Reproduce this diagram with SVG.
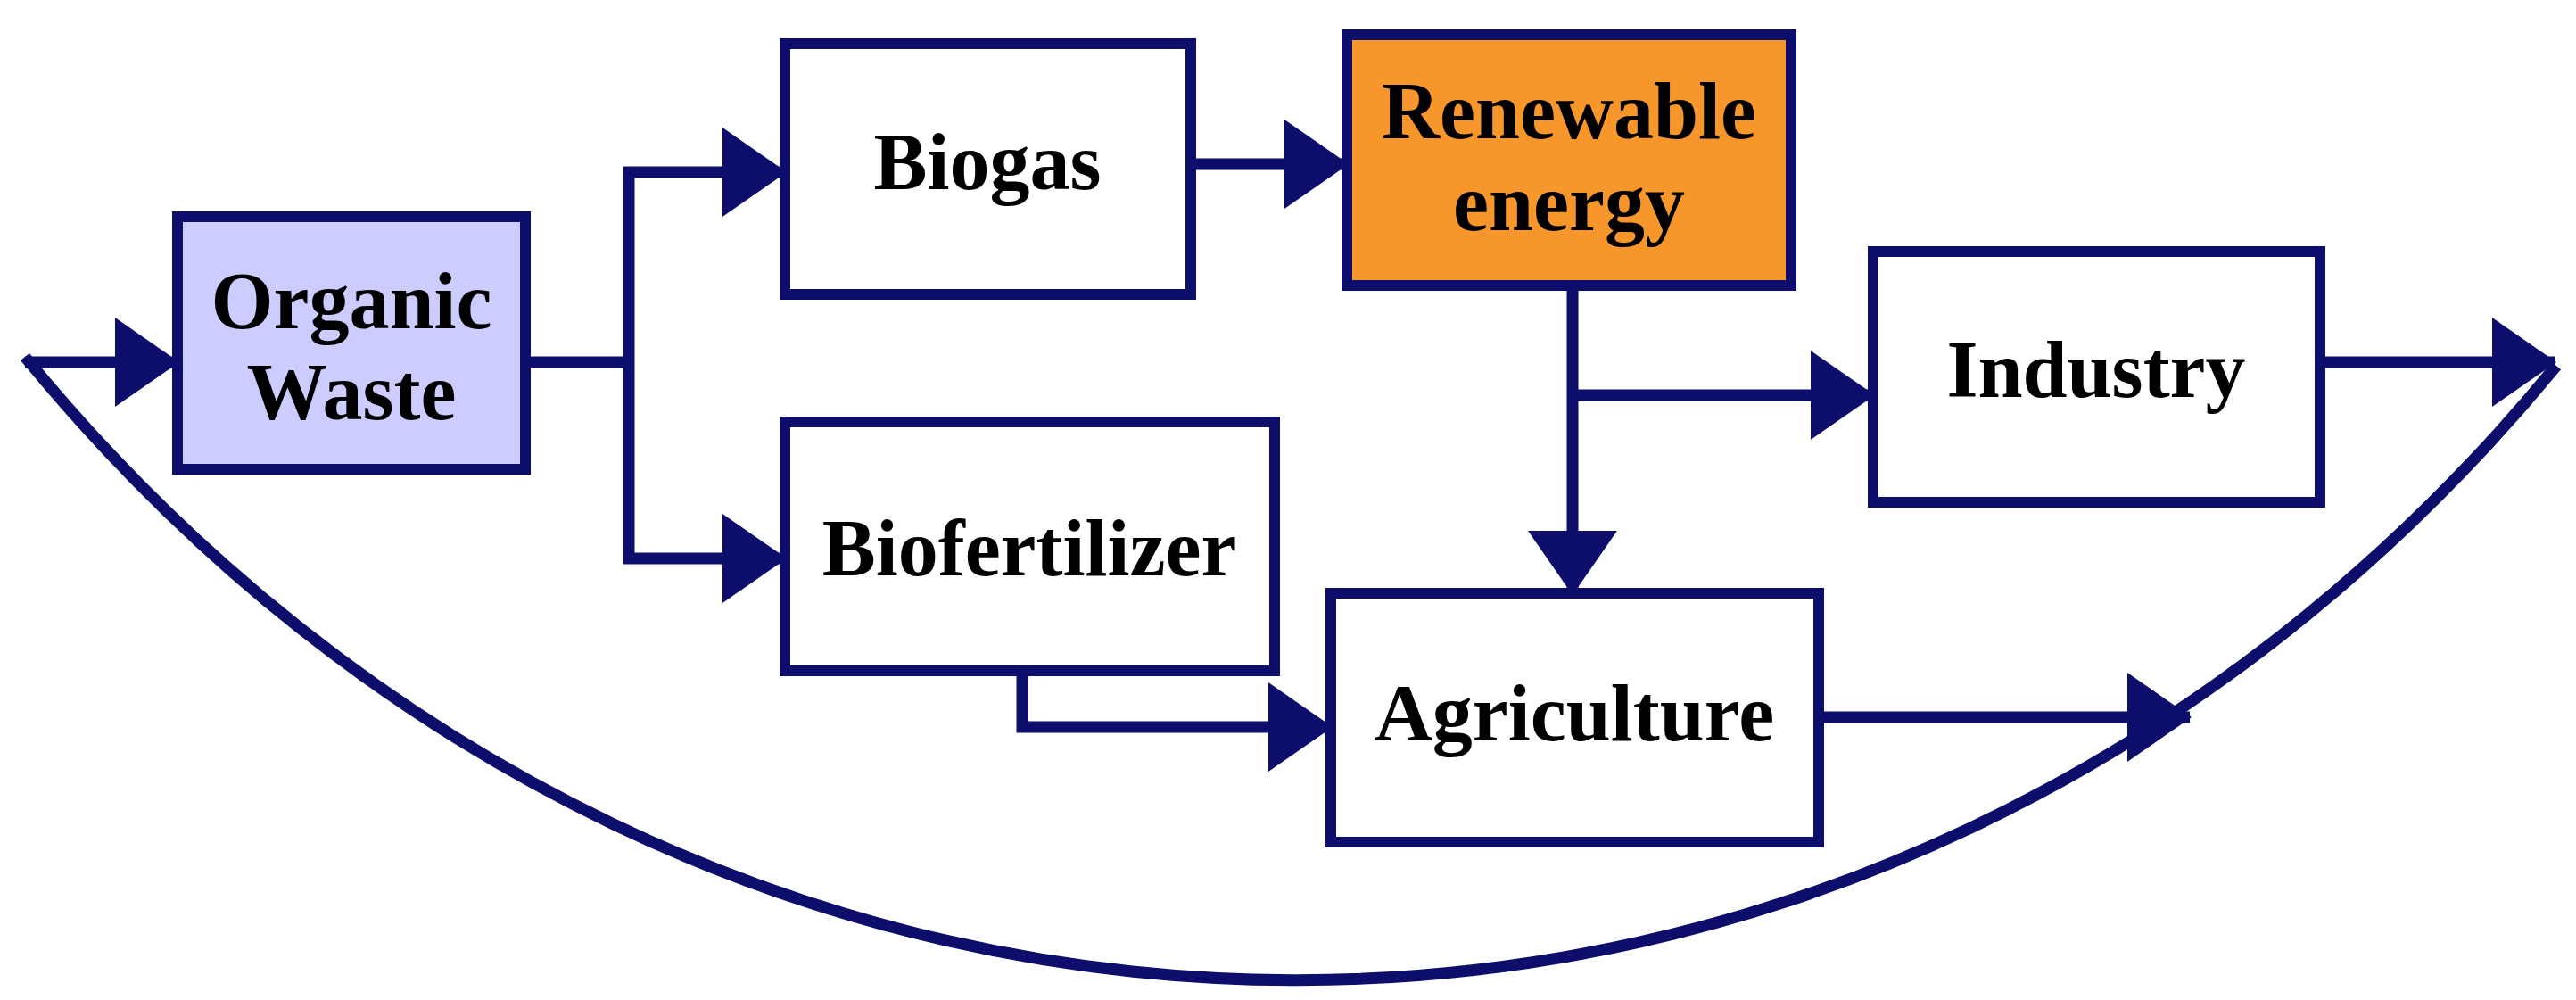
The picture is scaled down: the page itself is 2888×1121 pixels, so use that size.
<svg xmlns="http://www.w3.org/2000/svg" width="2888" height="1121" viewBox="0 0 2888 1121">
<style>
.b{fill:#fff;stroke:#0d0d6b;stroke-width:12}
.t{font-family:"Liberation Serif",serif;font-weight:bold;font-size:90px;fill:#000;text-anchor:middle}
.c{fill:none;stroke:#0d0d6b;stroke-width:13}
</style>
<defs><marker id="a" markerUnits="userSpaceOnUse" markerWidth="72" markerHeight="100" refX="70" refY="50" orient="auto"><path d="M0,0L72,50L0,100z" fill="#0d0d6b"/></marker></defs>
<rect width="2888" height="1121" fill="#fff"/>
<g id="connectors">
<path class="c" d="M589,406H705M705,187V632"/>
<path class="c" d="M699,193H880" marker-end="url(#a)"/>
<path class="c" d="M699,626H880" marker-end="url(#a)"/>
<path class="c" d="M1335,184H1510" marker-end="url(#a)"/>
<path class="c" d="M1763,320V665" marker-end="url(#a)"/>
<path class="c" d="M1763,443H2100" marker-end="url(#a)"/>
<path class="c" d="M2601,406H2864" marker-end="url(#a)"/>
<path class="c" d="M1146,752V815H1492" marker-end="url(#a)"/>
<path class="c" d="M2039,804H2455" marker-end="url(#a)"/>
<path class="c" d="M28,406H199" marker-end="url(#a)"/>
<path class="c" stroke-width="9" d="M28,400C790,1330 2110,1330 2866,410"/>
</g>
<g id="organic"><rect class="b" x="199" y="243" width="390" height="283" style="fill:#ccccff"/><text class="t" x="394" y="368">Organic</text><text class="t" x="394" y="470">Waste</text></g>
<g id="biogas"><rect class="b" x="880" y="49" width="455" height="281"/><text class="t" x="1107" y="212">Biogas</text></g>
<g id="renewable"><rect class="b" x="1510" y="39" width="498" height="281" style="fill:#f7962b"/><text class="t" x="1759" y="155">Renewable</text><text class="t" x="1759" y="258">energy</text></g>
<g id="industry"><rect class="b" x="2100" y="282" width="501" height="281"/><text class="t" x="2350" y="445">Industry</text></g>
<g id="biofertilizer"><rect class="b" x="880" y="473" width="549" height="279"/><text class="t" x="1154" y="645">Biofertilizer</text></g>
<g id="agriculture"><rect class="b" x="1492" y="665" width="547" height="279"/><text class="t" x="1765" y="830">Agriculture</text></g>
</svg>
